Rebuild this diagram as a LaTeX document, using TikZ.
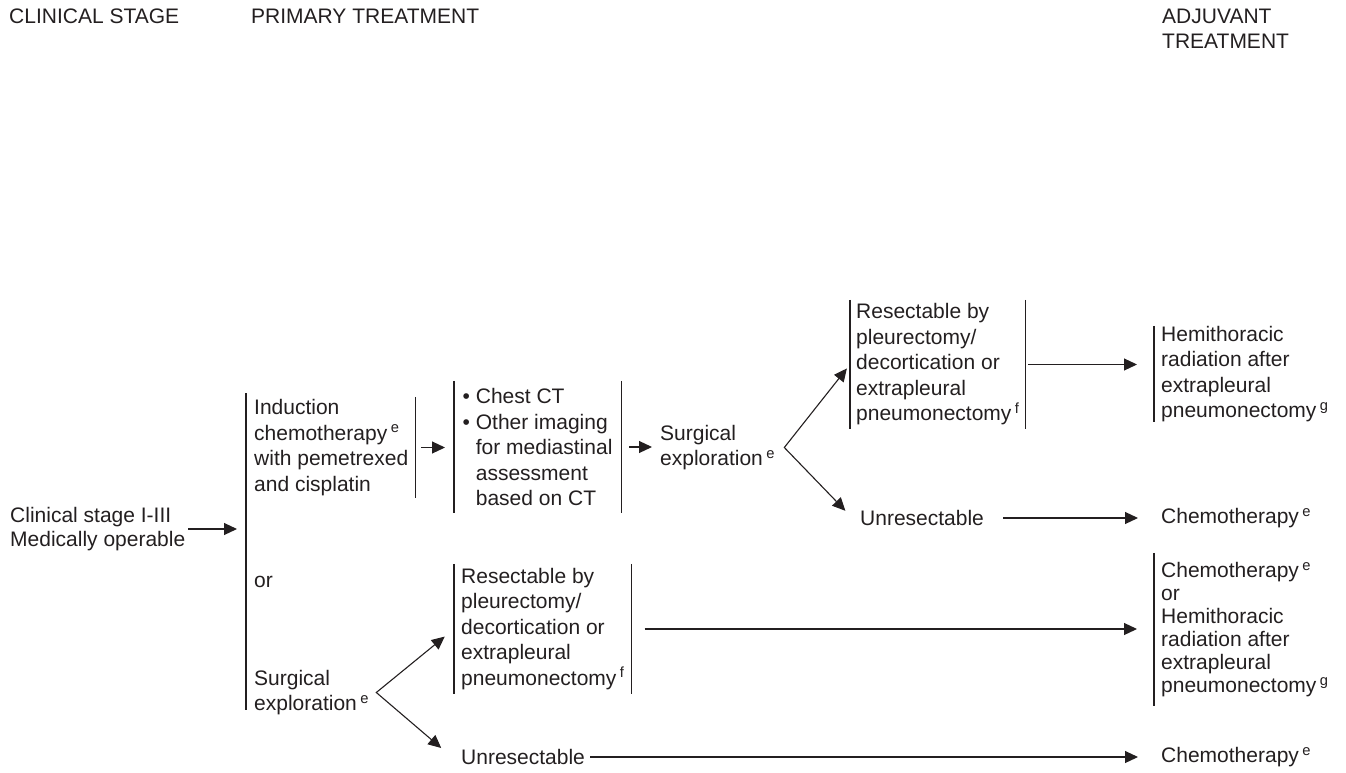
\documentclass[tikz,border=0pt]{standalone}
\usepackage{fontspec}
\setmainfont{Liberation Sans}
\usetikzlibrary{arrows.meta}
\definecolor{ink}{RGB}{35,31,32}
\newcommand{\fn}[1]{\,\textsuperscript{#1}}
\tikzset{
  txt/.style={anchor=west, inner sep=0pt, align=left, text=ink,
    font=\fontsize{21}{25.5}\selectfont},
  blk/.style={txt, inner xsep=7pt, inner ysep=0pt},
  bracketline/.style={draw=ink, line width=1.3pt},
  lbar/.style={append after command={(\tikzlastnode.north west) edge[bracketline] (\tikzlastnode.south west)}},
  rbar/.style={append after command={(\tikzlastnode.north east) edge[bracketline] (\tikzlastnode.south east)}},
  arr/.style={->, draw=ink, line width=1.1pt},
  forkarr/.style={<->, draw=ink, line width=1.1pt}
}
\begin{document}
\begin{tikzpicture}[x=1pt, y=-1pt, >={Triangle[length=13pt,width=12pt]}]
\useasboundingbox (0,0) rectangle (1346,773);

% column headings
\node[txt] (hstage) at (9,16) {CLINICAL STAGE};
\node[txt] (hprim) at (251,16) {PRIMARY TREATMENT};
\node[txt] (hadj) at (1162,29) {ADJUVANT\\TREATMENT};

% clinical stage
\node[txt, font=\fontsize{21}{24}\selectfont] (stage) at (10,529) {Clinical stage I-III\\Medically operable};
\coordinate (optT) at (246,393);
\coordinate (optB) at (246,710);
\draw[bracketline] (optT) -- (optB);
\draw[arr, shorten <=3pt, shorten >=9pt] (stage.east) -- (stage.east -| optT);

% induction route
\node[blk, rbar, minimum height=101pt] (induct) at (247,447.5) {Induction\\chemotherapy\fn{e}\\with pemetrexed\\and cisplatin};
\node[blk, lbar, rbar, minimum height=132pt, inner xsep=8.5pt] (chest) at (454,447) {\textbullet\ Chest CT\\\textbullet\ Other imaging\\\phantom{\textbullet\ }for mediastinal\\\phantom{\textbullet\ }assessment\\\phantom{\textbullet\ }based on CT};
\node[txt] (surg1) at (660,447.5) {Surgical\\exploration\fn{e}};
\coordinate (fork1) at ([xshift=9pt]surg1.east);
\node[blk, lbar, rbar, minimum height=129pt, inner xsep=6pt] (res1) at (850,364.5) {Resectable by\\pleurectomy/\\decortication or\\extrapleural\\pneumonectomy\fn{f}};
\node[txt] (unres1) at (860,518) {Unresectable};
\node[blk, lbar, minimum height=84pt] (hemi1) at (1154,374) {Hemithoracic\\radiation after\\extrapleural\\pneumonectomy\fn{g}};
\node[txt] (chemo1) at (1161,518) {Chemotherapy\fn{e}};

\draw[arr, shorten <=6pt, shorten >=9pt] (induct.east) -- (induct.east -| chest.west);
\draw[arr, shorten <=8pt, shorten >=8pt] (chest.east) -- (chest.east -| surg1.west);
\draw[forkarr, shorten <=5pt, shorten >=21pt] (res1.west) -- (fork1) -- (unres1.south west);
\draw[arr, shorten <=2pt, shorten >=17pt] (res1.east) -- (res1.east -| hemi1.west);
\draw[arr, shorten <=19pt, shorten >=23pt] (unres1.east) -- (chemo1.west);

% surgical exploration route
\node[txt] (or) at (254,582) {or};
\node[txt] (surg2) at (254,692.5) {Surgical\\exploration\fn{e}};
\coordinate (fork2) at ([xshift=7pt]surg2.east);
\node[blk, lbar, rbar, minimum height=130pt] (res2) at (454,629) {Resectable by\\pleurectomy/\\decortication or\\extrapleural\\pneumonectomy\fn{f}};
\node[txt] (unres2) at (461,757) {Unresectable};
\node[blk, lbar, minimum height=153pt, font=\fontsize{21}{23}\selectfont] (comb) at (1154,629.5) {Chemotherapy\fn{e}\\or\\Hemithoracic\\radiation after\\extrapleural\\pneumonectomy\fn{g}};
\node[txt] (chemo2) at (1161,757) {Chemotherapy\fn{e}};

\draw[forkarr, shorten <=12pt, shorten >=26pt] (res2.west) -- (fork2) -- (unres2.south west);
\draw[arr, shorten <=13pt, shorten >=17pt] (res2.east) -- (res2.east -| comb.west);
\draw[arr, shorten <=5pt, shorten >=23pt] (unres2.east) -- (chemo2.west);
\end{tikzpicture}
\end{document}
